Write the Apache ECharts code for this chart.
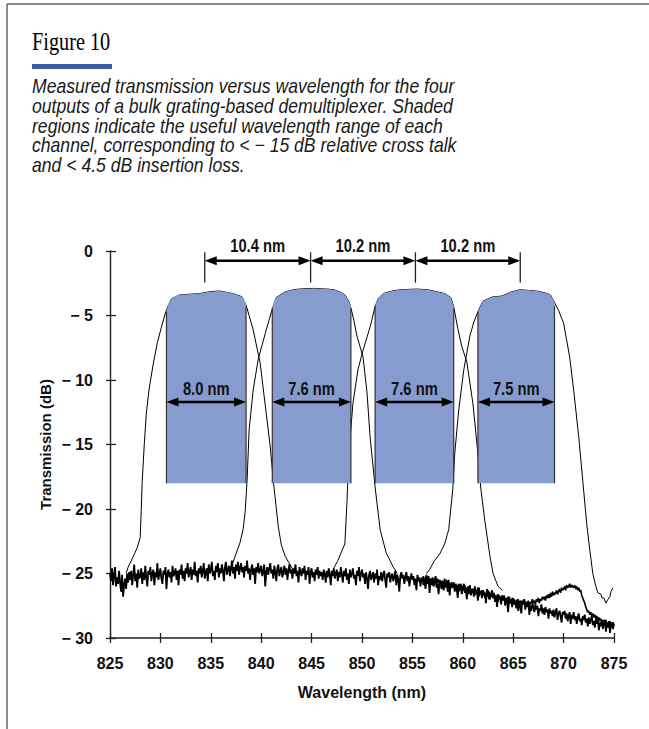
<!DOCTYPE html>
<html>
<head>
<meta charset="utf-8">
<script src="https://cdn.jsdelivr.net/npm/echarts@6/dist/echarts.min.js"></script>
<style>
html,body{margin:0;padding:0;background:#fff;}
#chart{width:649px;height:729px;}
</style>
</head>
<body>
<div id="chart"></div>
<script>
// ---------------- DATA ----------------
const yTickValues = [-30, -25, -20, -15, -10, -5, 0];
const yTickLabels = ['− 30', '− 25', '− 20', '− 15', '− 10', '− 5', '0'];
const xTickLabels = ['825', '830', '835', '840', '845', '850', '855', '860', '865', '870', '875'];

const floorAStart = 825.0;
const floorBStart = 856.0;
const floorStep = 0.1;
const floorA = [
-25.0,-25.6,-24.6,-25.9,-25.2,-24.5,-26.0,-25.3,-25.8,-24.8,
-25.7,-26.4,-25.1,-26.8,-25.9,-25.4,-26.2,-25.0,-25.7,-24.9,
-25.5,-24.8,-25.9,-25.1,-24.3,-25.6,-25.0,-26.1,-24.7,-25.4,
-25.2,-24.6,-25.8,-24.9,-25.5,-24.4,-25.3,-26.0,-24.8,-25.1,
-24.5,-25.6,-25.0,-24.7,-25.9,-24.9,-25.3,-24.2,-25.5,-25.0,
-24.6,-25.4,-25.8,-24.8,-25.1,-24.5,-26.2,-25.0,-24.7,-25.3,
-24.9,-25.7,-24.4,-25.2,-25.0,-24.6,-25.5,-24.8,-25.9,-24.7,
-25.1,-24.3,-25.4,-24.8,-25.6,-24.6,-25.0,-24.2,-25.3,-24.9,
-24.5,-25.5,-24.7,-25.1,-24.1,-25.2,-24.8,-25.7,-24.6,-25.0,
-24.4,-25.3,-24.8,-24.2,-25.4,-24.9,-24.6,-25.6,-24.3,-25.0,
-24.7,-24.1,-25.2,-24.8,-25.5,-24.4,-24.9,-24.2,-25.3,-24.6,
-25.0,-24.3,-24.8,-25.6,-24.5,-24.1,-25.1,-24.7,-24.4,-25.2,
-24.6,-24.0,-25.0,-24.5,-25.4,-24.3,-24.8,-24.1,-25.1,-24.6,
-24.2,-24.9,-24.5,-25.3,-24.4,-24.8,-24.0,-25.0,-24.6,-25.5,
-24.7,-24.3,-25.1,-24.6,-25.8,-24.5,-24.9,-24.2,-25.0,-24.7,
-24.4,-25.2,-24.8,-24.3,-26.0,-24.9,-24.5,-25.1,-24.6,-24.2,
-25.0,-24.7,-25.4,-24.4,-24.9,-25.6,-24.6,-24.3,-25.2,-24.8,
-24.5,-25.3,-24.9,-24.4,-25.1,-24.6,-25.5,-24.8,-24.3,-25.0,
-24.7,-25.4,-24.6,-25.0,-24.3,-25.2,-24.8,-25.7,-24.5,-24.9,
-25.2,-24.6,-25.0,-24.4,-25.5,-24.8,-25.1,-24.5,-25.8,-24.9,
-24.6,-25.3,-24.9,-25.6,-24.7,-25.1,-24.5,-25.4,-24.8,-25.2,
-24.9,-25.5,-24.7,-25.0,-25.7,-24.8,-25.3,-24.6,-25.1,-25.9,
-24.8,-25.2,-24.6,-25.4,-25.0,-24.7,-25.6,-24.9,-25.3,-24.5,
-25.1,-25.7,-24.8,-25.2,-24.6,-25.5,-25.0,-25.8,-24.7,-25.3,
-25.0,-24.6,-25.4,-25.1,-25.9,-24.8,-25.2,-24.5,-25.6,-25.0,
-24.7,-25.3,-25.0,-25.8,-24.9,-25.4,-26.2,-25.1,-24.8,-25.5,
-25.2,-24.9,-25.7,-25.0,-25.4,-24.7,-25.9,-25.2,-25.5,-24.9,
-25.6,-25.1,-24.8,-25.5,-26.1,-25.0,-25.3,-24.9,-25.7,-25.2,
-25.0,-25.6,-25.3,-24.8,-25.9,-25.1,-25.5,-26.4,-25.2,-24.9,
-25.4,-25.1,-25.8,-25.3,-24.9,-25.6,-25.2,-26.0,-25.4,-25.0,
-25.5,-25.2,-25.9,-25.4,-26.3,-25.1,-25.6,-25.3,-26.0,-25.5,
-25.3,-25.9,-25.5,-26.2,-25.4,-25.8,-25.2,-26.5,-25.6,-25.9,
-25.4,-26.0,-25.7,-25.3,-26.1,-25.8,-26.6,-25.5,-25.9,-26.2,
-25.7,-26.3,-25.8,-26.0,-25.5,-26.4,-25.9,-26.7,-25.8,-26.1,
-26.0,-25.7,-26.4,-25.9,-26.2,-26.9,-25.8,-26.3,-26.0,-26.6,
-26.1,-25.8,-26.5,-26.2,-27.0,-26.0,-26.4,-25.9,-26.7,-26.3,
-26.2,-26.8,-26.0,-26.5,-26.3,-27.1,-26.1,-26.6,-26.4,-26.9,
-26.3,-26.7,-26.5,-27.3,-26.2,-26.8,-26.4,-27.0,-26.6,-26.3,
-26.9,-26.5,-27.2,-26.7,-27.6,-26.6,-27.0,-26.8,-27.4,-26.7,
-27.1,-26.7,-27.5,-26.9,-27.2,-28.0,-26.8,-27.3,-27.0,-27.6,
-26.9,-27.4,-27.1,-27.7,-27.0,-27.9,-27.2,-27.5,-28.1,-27.1,
-27.4,-27.0,-27.8,-27.3,-27.6,-27.2,-28.2,-27.5,-27.9,-27.3,
-27.6,-28.0,-27.4,-27.8,-27.5,-28.3,-27.7,-27.9,-27.4,-28.1,
-27.7,-28.2,-27.6,-28.0,-27.8,-28.5,-27.7,-28.1,-27.9,-28.3,
-27.8,-28.4,-28.0,-27.7,-28.6,-28.1,-27.9,-28.3,-28.8,-28.0,
-28.2,-27.9,-28.5,-28.1,-28.7,-28.3,-28.0,-28.9,-28.2,-28.5,
-28.0,-28.6,-28.3,-28.9,-28.4,-28.1,-28.7,-28.5,-29.0,-28.3,
-28.6,-28.2,-28.8,-28.5,-29.1,-28.4,-28.9,-28.6,-28.3,-29.0,
-28.7,-29.2,-28.5,-28.9,-28.6,-29.4,-28.8,-29.1,-28.7,-29.3,
-28.9,-28.6,-29.5,-28.8,-29.2,-28.7,-29.6,-29.0,-28.8,-29.3,
-28.9
];
const floorB = [
-25.5,-25.2,-25.8,-25.4,-25.1,-25.7,-25.3,-25.9,-25.4,-25.6,
-25.3,-25.8,-25.5,-25.2,-25.9,-25.4,-25.7,-25.5,-26.0,-25.6,
-25.6,-25.9,-25.4,-26.1,-25.7,-25.9,-25.5,-26.2,-25.8,-25.7,
-26.0,-25.7,-26.2,-25.8,-26.1,-25.9,-26.4,-26.0,-25.8,-26.3,
-26.0,-26.3,-25.9,-26.5,-26.1,-26.2,-26.6,-26.0,-26.4,-26.2,
-26.5,-26.2,-26.7,-26.3,-26.6,-26.1,-26.8,-26.4,-26.5,-26.3,
-26.6,-26.4,-26.9,-26.5,-26.7,-26.3,-27.0,-26.6,-26.8,-26.5,
-26.9,-26.6,-27.1,-26.7,-26.8,-27.2,-26.7,-26.9,-27.0,-26.8,
-27.0,-26.8,-27.3,-26.9,-27.1,-26.8,-27.4,-27.0,-27.2,-26.9,
-27.2,-27.0,-27.4,-27.1,-27.3,-27.0,-27.5,-27.1,-27.3,-27.2,
-27.3,-27.0,-27.5,-27.2,-27.4,-27.1,-27.6,-27.2,-27.3,-27.0,
-27.3,-27.1,-27.4,-27.0,-27.2,-26.9,-27.3,-27.0,-27.1,-26.8,
-27.0,-26.8,-27.1,-26.7,-26.9,-26.6,-26.9,-26.5,-26.8,-26.4,
-26.7,-26.5,-26.6,-26.3,-26.6,-26.4,-26.2,-26.5,-26.1,-26.3,
-26.2,-26.0,-26.3,-25.9,-26.1,-26.0,-25.8,-26.1,-25.9,-26.0,
-26.1,-25.9,-26.2,-26.0,-26.3,-26.1,-26.4,-26.3,-26.7,-26.9,
-27.1,-27.3,-27.6,-27.8,-28.0,-27.9,-28.2,-28.0,-28.3,-28.1,
-28.4,-28.2,-28.5,-28.3,-28.6,-28.4,-28.7,-28.5,-28.8,-28.6,
-28.7,-28.9,-28.6,-29.0,-28.8,-29.1,-28.7,-29.0,-28.9,-28.8,
-28.9
];

// Channel pass-band traces [wavelength nm, transmission dB]
const ch1 = [[826.6,-25.0],[826.8,-24.5],[827.3,-23.7],[827.7,-23.0],[828.0,-22.2],[828.2,-17.8],[828.4,-15.0],[828.6,-12.6],[828.9,-10.6],[829.3,-8.7],[829.7,-7.1],[830.1,-5.9],[830.5,-4.8],[830.8,-4.2],[831.1,-3.7],[831.9,-3.4],[833.9,-3.3],[834.9,-3.15],[835.9,-3.1],[837.2,-3.3],[838.1,-3.55],[838.5,-4.2],[838.8,-5.0],[839.2,-6.1],[839.9,-8.7],[840.5,-12.6],[840.9,-15.2],[841.2,-17.8],[841.7,-21.4],[842.0,-22.8],[842.4,-23.7],[843.0,-24.5],[843.3,-24.9]];
const ch2 = [[837.0,-24.6],[837.4,-23.7],[837.9,-22.6],[838.2,-21.6],[838.4,-20.3],[838.6,-17.8],[838.8,-13.9],[839.2,-10.8],[839.7,-8.4],[840.4,-6.4],[840.8,-5.3],[841.1,-4.5],[841.5,-3.6],[842.3,-3.2],[843.2,-3.0],[844.2,-2.92],[845.2,-2.9],[846.2,-2.93],[847.2,-3.0],[847.9,-3.2],[848.3,-3.4],[848.7,-3.9],[848.9,-4.4],[849.2,-5.4],[849.5,-6.6],[850.1,-8.2],[850.5,-11.0],[850.8,-14.4],[851.3,-18.3],[851.8,-21.6],[852.4,-23.4],[853.1,-24.5],[853.5,-25.0]];
const ch3 = [[847.2,-24.6],[847.6,-24.0],[848.3,-22.7],[848.5,-19.6],[848.7,-15.7],[849.1,-11.8],[849.6,-9.2],[850.1,-7.7],[850.8,-5.9],[851.3,-4.3],[851.6,-3.7],[852.1,-3.3],[853.0,-3.1],[853.8,-3.0],[855.4,-2.95],[856.5,-3.0],[857.4,-3.15],[858.2,-3.3],[858.8,-3.6],[859.1,-4.3],[859.5,-6.0],[859.9,-7.4],[860.4,-8.6],[861.0,-11.8],[861.5,-15.7],[861.8,-18.5],[862.2,-21.0],[862.7,-23.7],[863.0,-25.0],[863.5,-26.0],[863.9,-26.3]];
const ch4 = [[856.4,-25.0],[856.7,-24.7],[857.2,-24.0],[857.7,-23.5],[858.2,-22.7],[858.6,-21.6],[859.0,-18.5],[859.2,-15.7],[859.6,-12.3],[860.1,-9.2],[860.7,-6.6],[861.1,-5.5],[861.5,-4.7],[861.8,-4.2],[862.0,-3.9],[862.5,-3.7],[863.0,-3.55],[863.8,-3.5],[864.3,-3.35],[864.7,-3.2],[865.7,-3.0],[866.5,-3.05],[867.3,-3.1],[868.2,-3.25],[868.7,-3.4],[869.1,-4.0],[869.5,-4.6],[870.0,-5.6],[870.6,-8.2],[871.0,-10.8],[871.5,-14.4],[871.9,-17.8],[872.3,-21.2],[872.6,-23.2],[872.9,-25.0],[873.2,-26.0],[873.4,-26.5],[873.7,-26.6],[873.8,-26.9],[874.0,-26.9],[874.2,-27.3],[874.4,-27.0],[874.6,-26.8],[874.7,-26.4],[874.9,-26.1]];

// Shaded useful ranges: edges (nm), top outline (follows the channel peak), bottom level (dB)
const bandEdges = [[830.6,838.5],[841.1,848.9],[851.3,859.1],[861.5,869.1]];
const bandTop1 = [[830.6,-4.7],[830.8,-4.1],[831.1,-3.7],[831.5,-3.5],[831.9,-3.4],[832.9,-3.35],[833.9,-3.3],[834.9,-3.15],[835.9,-3.1],[836.6,-3.2],[837.2,-3.3],[838.1,-3.55],[838.4,-3.9],[838.5,-4.2]];
const bandTop2 = [[841.1,-4.4],[841.3,-3.9],[841.5,-3.6],[842.3,-3.2],[843.2,-3.0],[844.2,-2.92],[845.2,-2.9],[846.2,-2.93],[847.2,-3.0],[847.9,-3.2],[848.3,-3.4],[848.7,-3.9],[848.9,-4.3]];
const bandTop3 = [[851.3,-4.2],[851.6,-3.7],[852.1,-3.3],[853.0,-3.1],[853.8,-3.0],[855.4,-2.95],[856.5,-3.0],[857.4,-3.15],[858.2,-3.3],[858.8,-3.6],[859.1,-4.3]];
const bandTop4 = [[861.5,-4.7],[861.8,-4.2],[862.0,-3.9],[862.5,-3.7],[863.0,-3.55],[863.8,-3.5],[864.3,-3.35],[864.7,-3.2],[865.7,-3.0],[866.5,-3.05],[867.3,-3.1],[868.2,-3.25],[868.7,-3.4],[869.0,-3.8],[869.1,-4.1]];
const bandBottom = -18;
const bandLabels = ['8.0 nm', '7.6 nm', '7.6 nm', '7.5 nm'];

// Channel spacing markers (peak centres, nm) and labels
const spacingMarkers = [834.4, 844.9, 855.3, 865.7];
const spacingLabels = ['10.4 nm', '10.2 nm', '10.2 nm'];

const captionLines = [
  'Measured transmission versus wavelength for the four',
  'outputs of a bulk grating-based demultiplexer. Shaded',
  'regions indicate the useful wavelength range of each',
  'channel, corresponding to < − 15 dB relative cross talk',
  'and < 4.5 dB insertion loss.'
];

// ---------------- CHART ----------------
const bandTops = [bandTop1, bandTop2, bandTop3, bandTop4];
const FONT_S = '"Liberation Sans", Arial, sans-serif';
const FONT_SERIF = '"Liberation Serif", "DejaVu Serif", serif';
const INK = '#111';
const BAND_FILL = '#869CCF';

function floorData(start, vals) {
  return vals.map((v, i) => [+(start + i * floorStep).toFixed(1), v]);
}

function arrowEls(api, x1, x2, yv, label, labelDy) {
  const p1 = api.coord([x1, yv]);
  const p2 = api.coord([x2, yv]);
  const hl = 12, hh = 4.5;
  return [
    { type: 'line', shape: { x1: p1[0] + hl - 2, y1: p1[1], x2: p2[0] - hl + 2, y2: p2[1] },
      style: { stroke: '#000', lineWidth: 2.6 } },
    { type: 'polygon', shape: { points: [[p1[0], p1[1]], [p1[0] + hl, p1[1] - hh], [p1[0] + hl, p1[1] + hh]] },
      style: { fill: '#000' } },
    { type: 'polygon', shape: { points: [[p2[0], p2[1]], [p2[0] - hl, p2[1] - hh], [p2[0] - hl, p2[1] + hh]] },
      style: { fill: '#000' } },
    { type: 'text', x: (p1[0] + p2[0]) / 2, y: p1[1] - labelDy, scaleX: 0.82,
      style: { text: label, fill: INK, fontSize: 18, fontWeight: 'bold', fontFamily: FONT_S,
               align: 'center', verticalAlign: 'middle' } }
  ];
}

function traceSeries(name, data, z, width) {
  return { name: name, type: 'line', data: data, showSymbol: false, symbol: 'none',
    lineStyle: { color: '#000', width: width }, z: z, silent: true, clip: true, animation: false };
}

const chart = echarts.init(document.getElementById('chart'), null, { renderer: 'svg' });

const axisFont = { fontSize: 16, fontWeight: 'bold', fontFamily: FONT_S, color: INK };

const option = {
  backgroundColor: '#fff',
  animation: false,
  grid: { left: 110, top: 251, width: 504, height: 387, containLabel: false, outerBoundsMode: 'none' },
  xAxis: [
    { type: 'value', min: 825, max: 875, interval: 5, position: 'bottom',
      name: 'Wavelength (nm)', nameLocation: 'middle', nameGap: 46, nameMoveOverlap: false,
      nameTextStyle: axisFont,
      axisLine: { show: true, onZero: false, lineStyle: { color: '#222', width: 1.6 } },
      axisTick: { show: true, inside: false, length: 5, lineStyle: { color: '#222', width: 1.3 } },
      axisLabel: Object.assign({ margin: 17, formatter: v => xTickLabels[Math.round((v - 825) / 5)] }, axisFont),
      splitLine: { show: false } },
    { type: 'value', min: 825, max: 875, interval: 5, position: 'bottom',
      axisLine: { show: false, onZero: false },
      axisTick: { show: true, inside: true, length: 5, lineStyle: { color: '#222', width: 1.3 } },
      axisLabel: { show: false }, splitLine: { show: false } }
  ],
  yAxis: [
    { type: 'value', min: -30, max: 0, interval: 5, position: 'left',
      name: 'Transmission (dB)', nameLocation: 'middle', nameGap: 57, nameRotate: 90, nameMoveOverlap: false,
      nameTextStyle: Object.assign({}, axisFont, { fontSize: 15 }),
      axisLine: { show: true, onZero: false, lineStyle: { color: '#222', width: 1.4 } },
      axisTick: { show: true, inside: false, length: 4, lineStyle: { color: '#222', width: 1.3 } },
      axisLabel: Object.assign({ margin: 17, formatter: v => yTickLabels[yTickValues.indexOf(v)] }, axisFont),
      splitLine: { show: false } },
    { type: 'value', min: -30, max: 0, interval: 5, position: 'left',
      axisLine: { show: false, onZero: false },
      axisTick: { show: true, inside: true, length: 6, lineStyle: { color: '#222', width: 1.3 } },
      axisLabel: { show: false }, splitLine: { show: false } }
  ],
  series: [
    traceSeries('floorA', floorData(floorAStart, floorA), 2, 1.8),
    traceSeries('floorB', floorData(floorBStart, floorB), 2, 1.6),
    traceSeries('ch1', ch1, 3, 1),
    traceSeries('ch2', ch2, 3, 1),
    traceSeries('ch3', ch3, 3, 1),
    traceSeries('ch4', ch4, 3, 1),
    { name: 'useful range', type: 'custom', z: 5, silent: true, clip: false,
      data: bandEdges.map(e => [e[0], bandBottom]),
      renderItem: function (params, api) {
        const i = params.dataIndex;
        const top = bandTops[i];
        const e = bandEdges[i];
        const pts = top.map(p => api.coord(p));
        const bl = api.coord([e[0], bandBottom]);
        const br = api.coord([e[1], bandBottom]);
        pts.push(br); pts.push(bl);
        const tl = api.coord(top[0]);
        const tr = api.coord(top[top.length - 1]);
        return { type: 'group', children: [
          { type: 'polygon', shape: { points: pts }, style: { fill: BAND_FILL } },
          { type: 'line', shape: { x1: tl[0], y1: tl[1], x2: bl[0], y2: bl[1] }, style: { stroke: '#333', lineWidth: 1.2 } },
          { type: 'line', shape: { x1: tr[0], y1: tr[1] + 2, x2: br[0], y2: br[1] }, style: { stroke: '#333', lineWidth: 1.2 } }
        ].concat(arrowEls(api, e[0], e[1], -11.7, bandLabels[i], 13.5)) };
      } },
    { name: 'spacing', type: 'custom', z: 6, silent: true, clip: false,
      data: spacingMarkers.map(x => [x, -0.75]),
      renderItem: function (params, api) {
        const i = params.dataIndex;
        const x = spacingMarkers[i];
        const a = api.coord([x, -0.1]);
        const b = api.coord([x, -2.45]);
        let children = [
          { type: 'line', shape: { x1: a[0], y1: a[1], x2: b[0], y2: b[1] }, style: { stroke: '#222', lineWidth: 1.3 } }
        ];
        if (i < spacingMarkers.length - 1) {
          children = children.concat(arrowEls(api, x, spacingMarkers[i + 1], -0.75, spacingLabels[i], 15));
        }
        return { type: 'group', children: children };
      } }
  ],
  graphic: [
    { type: 'line', shape: { x1: 7, y1: 4, x2: 649, y2: 4 }, style: { stroke: '#666', lineWidth: 1.5 } },
    { type: 'line', shape: { x1: 7, y1: 4, x2: 7, y2: 729 }, style: { stroke: '#666', lineWidth: 1.5 } },
    { type: 'text', x: 32, y: 41.5, scaleX: 0.78,
      style: { text: 'Figure 10', fontSize: 26, fontFamily: FONT_SERIF, fill: '#000', align: 'left', verticalAlign: 'middle' } },
    { type: 'rect', shape: { x: 32, y: 64, width: 80, height: 5 }, style: { fill: '#3B5CA8' } },
    { type: 'text', x: 32, y: 76.6, scaleX: 0.88,
      style: { text: captionLines.join('\n'), fontSize: 20, lineHeight: 19.7, fontStyle: 'italic', fontFamily: FONT_S,
               fill: '#1a1a1a', align: 'left', verticalAlign: 'top' } }
  ]
};
chart.setOption(option);
</script>
</body>
</html>
